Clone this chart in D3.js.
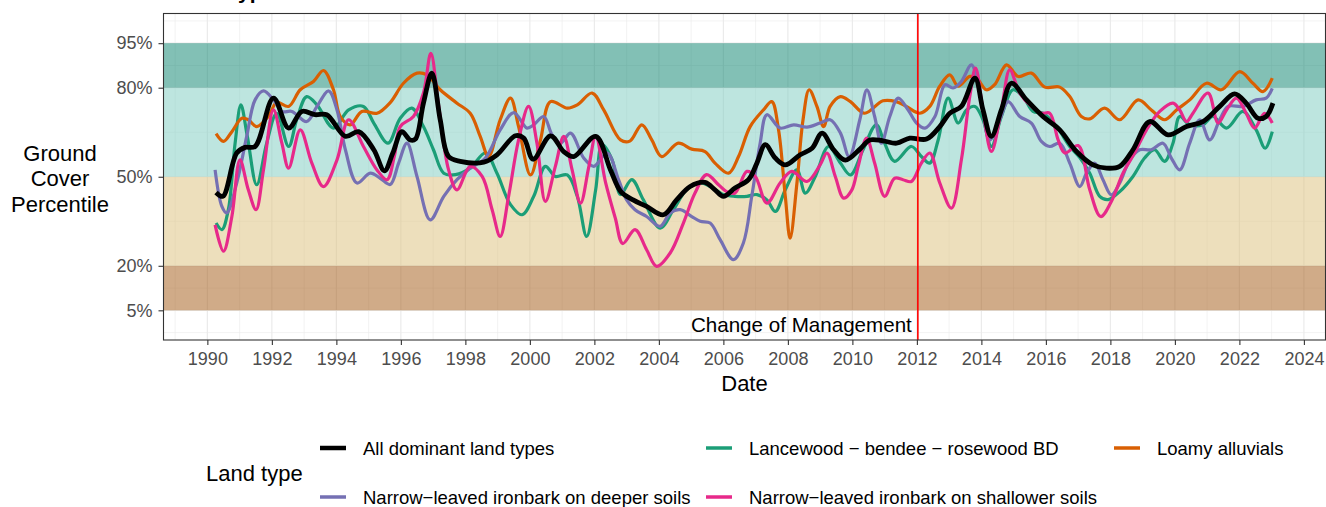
<!DOCTYPE html>
<html><head><meta charset="utf-8">
<script src="https://cdn.jsdelivr.net/npm/d3@7"></script>
<style>
body{margin:0;background:#fff;}
svg{font-family:"Liberation Sans",Arial,Helvetica,sans-serif;}
</style></head>
<body><svg id="chart" width="1326" height="507"></svg>
<script>
// ---------- data (decimal year, ground cover percentile) ----------
const seriesNames = ["All dominant land types","Lancewood \u2212 bendee \u2212 rosewood BD","Loamy alluvials","Narrow\u2212leaved ironbark on deeper soils","Narrow\u2212leaved ironbark on shallower soils"];
const seriesColors = ["#000000","#1b9e77","#d95f02","#7570b3","#e7298a"];

const allTypes = [[1990.27,44.7],[1990.48,43.4],[1990.91,58],[1991.17,59.9],[1991.48,60.2],[1992.05,76.5],[1992.52,66.4],[1992.93,72],[1993.34,70.9],[1993.7,70.9],[1994.28,63.6],[1994.69,65.2],[1995.16,59.1],[1995.49,52],[1995.75,58],[1996.03,65.2],[1996.29,62.4],[1996.45,62.7],[1996.7,74.8],[1996.96,84.9],[1997.22,69.2],[1997.48,56.8],[1997.84,55.2],[1998.57,54.9],[1998.98,57.4],[1999.55,63.8],[1999.81,63],[2000.1,55.9],[2000.64,63.8],[2001.05,58.5],[2001.36,56.8],[2002.04,63.6],[2002.5,52.3],[2002.82,45],[2003.2,42.2],[2003.62,40],[2004.14,37.2],[2004.55,42.2],[2004.97,46.7],[2005.43,48.1],[2005.74,45.6],[2006.0,43.4],[2006.36,46.2],[2006.78,49],[2007.04,54.6],[2007.3,60.8],[2007.61,56.3],[2007.92,54],[2008.38,57.4],[2008.75,59.6],[2009.06,64.7],[2009.42,59.1],[2009.78,55.6],[2010.25,59.5],[2010.54,62.4],[2010.95,62.1],[2011.37,61.3],[2011.78,63],[2012.3,62.7],[2012.71,66.9],[2013.02,71.4],[2013.38,73.7],[2013.8,83.2],[2014.05,72.5],[2014.31,63.6],[2014.62,72.5],[2014.93,81.5],[2015.4,75.9],[2015.91,70.3],[2016.43,65.8],[2016.95,58.5],[2017.46,54.0],[2017.88,52.9],[2018.29,53.5],[2018.7,59.1],[2019.22,68.6],[2019.79,64.1],[2020.36,66.9],[2020.87,68.6],[2021.39,73.7],[2021.85,77.9],[2022.21,74.8],[2022.58,69.7],[2022.83,70.3],[2023.04,74.8]];

const lancewood = [[1990.27,34.4],[1990.45,32.2],[1990.65,38.9],[1990.86,61.3],[1991.04,74.2],[1991.24,63.6],[1991.53,47.3],[1991.84,61.3],[1992.15,71.4],[1992.52,60.2],[1992.77,69.2],[1993.08,77],[1993.4,74.2],[1993.91,66.4],[1994.38,72.5],[1994.84,73.7],[1995.16,68.1],[1995.6,61.3],[1995.98,69.7],[1996.34,73.1],[1996.7,66.9],[1997.01,59.1],[1997.33,51.2],[1997.69,50.7],[1998.15,52.9],[1998.62,58],[1998.98,51.2],[1999.4,40.6],[1999.76,37.2],[2000.12,43.4],[2000.48,53.5],[2000.79,50.1],[2001.16,50.6],[2001.47,43.4],[2001.76,29.9],[2002.04,45.6],[2002.24,60.8],[2002.55,55.7],[2002.81,44],[2003.16,49],[2003.52,42.2],[2004.04,32.7],[2004.45,38.9],[2004.86,45.6],[2005.28,47.9],[2005.59,46.7],[2006.0,44],[2006.36,43.4],[2006.73,43.4],[2007.04,44],[2007.35,42.2],[2007.61,38.3],[2007.92,45.6],[2008.28,52.3],[2008.54,44.5],[2008.85,50.1],[2009.26,60.2],[2009.63,54.6],[2009.94,50.6],[2010.33,59.1],[2010.74,67.5],[2011.0,61.3],[2011.31,55.2],[2011.83,60.2],[2012.14,56.8],[2012.4,54.6],[2012.66,62.4],[2012.97,76.5],[2013.28,68.1],[2013.54,72.5],[2013.8,73.7],[2014.05,69.2],[2014.31,60.2],[2014.62,70.3],[2014.98,79.3],[2015.29,77],[2015.6,72],[2015.91,71.4],[2016.33,66.9],[2016.74,60.2],[2017.05,56.5],[2017.36,51.2],[2017.67,43.4],[2017.93,42.3],[2018.29,45],[2018.7,50.1],[2019.06,56.3],[2019.37,59.1],[2019.68,55.2],[2019.94,61.3],[2020.15,70.3],[2020.46,67.5],[2020.87,67.5],[2021.18,70.3],[2021.6,66.4],[2022.11,72],[2022.52,65.8],[2022.8,59.6],[2023.02,65.2]];

const loamy = [[1990.27,64.5],[1990.5,61.9],[1990.76,65.2],[1991.07,69.7],[1991.27,69.2],[1991.53,66.9],[1991.89,70.3],[1992.15,75],[1992.52,73.7],[1992.88,79.3],[1993.29,82.1],[1993.6,85.8],[1993.91,79.3],[1994.12,70.3],[1994.43,67.5],[1994.79,72],[1995.26,71.4],[1995.67,75],[1996.08,81.5],[1996.5,84.9],[1996.81,84.3],[1997.22,79.3],[1997.74,74.8],[1998.15,71.4],[1998.46,63.6],[1998.72,56.8],[1999.08,69.2],[1999.4,76.5],[1999.65,66.9],[2000.02,50.6],[2000.33,62.4],[2000.64,75.3],[2001.16,73.1],[2001.47,74.2],[2001.93,78.2],[2002.29,72.5],[2002.81,62.4],[2003.1,62],[2003.47,67.5],[2003.78,62.4],[2004.09,56.8],[2004.6,61.3],[2005.02,59.3],[2005.43,58.5],[2005.74,54.6],[2006.16,51.2],[2006.47,56.8],[2006.83,66.9],[2007.24,72.5],[2007.5,75.3],[2007.71,65.8],[2007.92,43.4],[2008.07,29.3],[2008.28,47.8],[2008.47,69.2],[2008.66,79.3],[2008.9,73.7],[2009.11,66.9],[2009.31,73.7],[2009.63,77],[2009.94,75.3],[2010.38,71.4],[2010.95,75.6],[2011.36,75.3],[2011.67,73.7],[2012.09,71.4],[2012.4,73.7],[2012.71,80.5],[2013.02,84.3],[2013.28,80.5],[2013.64,83.8],[2013.85,83.2],[2014.16,79.3],[2014.41,81],[2014.78,87.7],[2015.14,83.8],[2015.55,84.9],[2015.97,80.2],[2016.43,80.2],[2016.74,77],[2017.1,70.3],[2017.36,69.5],[2017.82,73.1],[2018.29,69.2],[2018.86,75.9],[2019.27,72.5],[2019.68,69.2],[2020.05,72.5],[2020.46,75.9],[2020.98,81.5],[2021.44,79.3],[2022.01,85.4],[2022.42,81.5],[2022.73,78.7],[2023.02,83.2]];

const deeper = [[1990.24,52.3],[1990.45,40],[1990.6,37.8],[1990.91,47.9],[1991.22,63.6],[1991.48,75.9],[1991.74,78.9],[1992.05,75.9],[1992.31,72],[1992.62,72],[1993.08,68.6],[1993.4,73.7],[1993.76,78.9],[1994.02,72.5],[1994.28,59.1],[1994.64,47.9],[1995.05,51.2],[1995.36,49.5],[1995.67,47.4],[1995.93,54.6],[1996.19,61.3],[1996.5,50.1],[1996.91,35.5],[1997.33,43.4],[1997.74,49],[1998.15,52.9],[1998.62,56.3],[1999.08,65.8],[1999.5,71.6],[1999.91,66.4],[2000.12,67.5],[2000.43,70.3],[2000.69,64.1],[2000.95,61.3],[2001.26,64.7],[2001.67,56.3],[2001.98,53.5],[2002.4,58],[2002.75,49],[2003.0,42.2],[2003.26,38.9],[2003.62,36.6],[2004.04,33.3],[2004.35,37.8],[2004.66,38.9],[2005.02,36.6],[2005.28,35],[2005.59,34.4],[2005.9,28.8],[2006.31,22.1],[2006.62,27.7],[2006.88,43.4],[2007.14,61.3],[2007.35,70.9],[2007.76,66.4],[2008.18,67.5],[2008.59,66.7],[2009.0,68.1],[2009.31,69.2],[2009.63,64.7],[2009.9,56.8],[2010.23,69.2],[2010.45,79.3],[2010.69,70.3],[2010.9,61.3],[2011.16,70.3],[2011.42,76.5],[2011.73,72.5],[2011.99,68.1],[2012.25,66.4],[2012.56,70.3],[2012.87,81],[2013.12,79.9],[2013.38,82.1],[2013.69,87.7],[2013.95,78.2],[2014.26,62.4],[2014.57,69.2],[2014.83,75.3],[2015.19,70.3],[2015.55,68.1],[2015.86,61.9],[2016.12,60.2],[2016.43,61.3],[2016.74,54.6],[2017.05,46.7],[2017.26,51.2],[2017.51,54.6],[2017.77,49],[2018.03,43.9],[2018.29,47.9],[2018.6,55.7],[2018.91,59.1],[2019.27,59.1],[2019.63,61.3],[2019.89,56.3],[2020.15,52.3],[2020.46,61.3],[2020.77,69.2],[2021.08,62.4],[2021.39,69.2],[2021.65,73.7],[2022.11,73.7],[2022.52,75.9],[2022.83,76.5],[2023.02,79.8]];

const shallower = [[1990.24,33.8],[1990.5,24.9],[1990.76,36.6],[1991.01,55.7],[1991.27,45.6],[1991.51,38.9],[1991.74,52.3],[1992.05,72.5],[1992.31,61.3],[1992.52,52.9],[1992.88,65.8],[1993.24,54.6],[1993.6,46.7],[1994.02,55.7],[1994.38,69.2],[1994.84,60.2],[1995.26,52.3],[1995.57,49],[1995.8,57],[1995.98,66.9],[1996.39,70.3],[1996.7,78.2],[1996.93,91.6],[1997.16,74.8],[1997.48,52.3],[1997.74,45.6],[1998.15,53.5],[1998.52,50.1],[1998.83,38.9],[1999.08,29.9],[1999.34,43.4],[1999.65,62.4],[1999.96,73.7],[2000.22,61.3],[2000.48,41.7],[2000.79,53.5],[2001.05,63.6],[2001.31,52.3],[2001.57,41.1],[2001.83,53.5],[2002.04,63.6],[2002.35,47.9],[2002.65,36],[2002.88,27.5],[2003.26,32.2],[2003.62,25.4],[2003.93,19.8],[2004.35,24.3],[2004.76,34.4],[2005.12,44.5],[2005.48,50.7],[2005.85,47.3],[2006.1,45],[2006.36,44.5],[2006.73,51.8],[2006.99,50.1],[2007.35,41.1],[2007.76,47.9],[2008.12,51.8],[2008.59,48.4],[2009.0,54],[2009.21,58],[2009.47,50.1],[2009.73,42.8],[2009.98,45.5],[2010.18,53.5],[2010.44,63],[2010.69,54.6],[2011.0,43.4],[2011.31,49.5],[2011.57,49],[2011.83,48.4],[2012.14,54.6],[2012.4,58],[2012.71,47.9],[2013.07,39.4],[2013.38,55.7],[2013.64,77],[2013.82,86.6],[2014.05,72.5],[2014.31,58.5],[2014.62,72.5],[2014.88,86],[2015.19,78.2],[2015.55,73.7],[2015.86,71.4],[2016.12,71.4],[2016.38,62.4],[2016.59,58],[2017.0,60.5],[2017.36,45.6],[2017.7,36.6],[2018.03,41.7],[2018.39,51.2],[2018.75,58],[2019.12,65.8],[2019.53,72],[2019.94,74.8],[2020.15,72.5],[2020.36,68.6],[2020.56,71.4],[2021.03,78.2],[2021.34,68.1],[2021.6,72.5],[2021.91,76.5],[2022.21,71.4],[2022.47,66.4],[2022.78,71.4],[2023.02,68.1]];

const bandLimits = [[5,20],[20,50],[50,80],[80,95]];
const bandColors = ["#a15711","#dbbf79","#7bcbbf","#05816b"];
const yTicks = [5,20,50,80,95];
const yMinor = [-2.5,12.5,35,65,87.5,102.5];
const xTicks = d3.range(1990, 2025, 2);
const xMinor = d3.range(1989, 2025, 2);
const changeDate = 2012.03;
const changeLabel = "Change of Management";

// ---------- layout ----------
const svg = d3.select("#chart");
const P = {l:163.5, r:1325.5, t:13.5, b:340};
const x = d3.scaleLinear().domain([1988.64, 2024.67]).range([P.l, P.r]);
const y = d3.scaleLinear().domain([-5, 105]).range([P.b, P.t]);

svg.append("defs").append("clipPath").attr("id","clip")
  .append("rect").attr("x",P.l).attr("y",P.t).attr("width",P.r-P.l).attr("height",P.b-P.t);

// title (clipped at top of image, as in the original)
svg.append("text").attr("x",175).attr("y",-1.5).attr("font-size",21).attr("font-weight","bold").text("Land type");

// grid
const grid = svg.append("g");
grid.selectAll(".xm").data(xMinor).join("line").attr("x1",d=>x(d)).attr("x2",d=>x(d)).attr("y1",P.t).attr("y2",P.b).attr("stroke","#ebebeb").attr("stroke-width",0.6);
grid.selectAll(".ym").data(yMinor).join("line").attr("y1",d=>y(d)).attr("y2",d=>y(d)).attr("x1",P.l).attr("x2",P.r).attr("stroke","#ebebeb").attr("stroke-width",0.6);
grid.selectAll(".xM").data(xTicks).join("line").attr("x1",d=>x(d)).attr("x2",d=>x(d)).attr("y1",P.t).attr("y2",P.b).attr("stroke","#ebebeb").attr("stroke-width",1.2);
grid.selectAll(".yM").data(yTicks).join("line").attr("y1",d=>y(d)).attr("y2",d=>y(d)).attr("x1",P.l).attr("x2",P.r).attr("stroke","#ebebeb").attr("stroke-width",1.2);

// bands
svg.append("g").selectAll("rect").data(bandLimits).join("rect")
  .attr("x",P.l).attr("width",P.r-P.l)
  .attr("y",d=>y(d[1])).attr("height",d=>y(d[0])-y(d[1]))
  .attr("fill",(d,i)=>bandColors[i]).attr("fill-opacity",0.5);

// lines
const line = d3.line().x(d=>x(d[0])).y(d=>y(d[1])).curve(d3.curveCatmullRom.alpha(0.5));
const lg = svg.append("g").attr("clip-path","url(#clip)");
const colored = [[lancewood,1],[loamy,2],[deeper,3],[shallower,4]];
colored.forEach(([data,i])=>{
  lg.append("path").datum(data).attr("d",line).attr("fill","none")
    .attr("stroke",seriesColors[i]).attr("stroke-width",3.2).attr("stroke-linejoin","round");
});
lg.append("path").datum(allTypes).attr("d",line).attr("fill","none")
  .attr("stroke","#000").attr("stroke-width",4.8).attr("stroke-linejoin","round");

// change of management
svg.append("line").attr("x1",x(changeDate)).attr("x2",x(changeDate)).attr("y1",P.t).attr("y2",P.b)
  .attr("stroke","#ff0000").attr("stroke-width",1.6);
svg.append("text").attr("x",x(changeDate)-6).attr("y",332).attr("text-anchor","end")
  .attr("font-size",20.6).attr("fill","#000").text(changeLabel);

// panel border
svg.append("rect").attr("x",P.l).attr("y",P.t).attr("width",P.r-P.l).attr("height",P.b-P.t)
  .attr("fill","none").attr("stroke","#333").attr("stroke-width",1.1);

// axes
const xAxis = svg.append("g").attr("transform",`translate(0,${P.b})`)
  .call(d3.axisBottom(x).tickValues(xTicks).tickFormat(d3.format("d")).tickSize(5).tickPadding(7));
const yAxis = svg.append("g").attr("transform",`translate(${P.l},0)`)
  .call(d3.axisLeft(y).tickValues(yTicks).tickFormat(d=>d+"%").tickSize(5).tickPadding(6));
[xAxis,yAxis].forEach(a=>{
  a.select(".domain").remove();
  a.selectAll(".tick line").attr("stroke","#333").attr("stroke-width",1.1);
  a.selectAll(".tick text").attr("fill","#4d4d4d").attr("font-size",18).attr("font-family","Liberation Sans, Arial, sans-serif");
});

// axis titles
svg.append("text").attr("x",(P.l+P.r)/2).attr("y",391).attr("text-anchor","middle").attr("font-size",22).text("Date");
const yt = svg.append("text").attr("text-anchor","middle").attr("font-size",22);
["Ground","Cover","Percentile"].forEach((t,i)=>yt.append("tspan").attr("x",60).attr("y",160.5+i*25.5).text(t));

// legend
svg.append("text").attr("x",206).attr("y",481).attr("font-size",22).text("Land type");
const legPos = [[320,448],[706,448],[1114,448],[320,497],[706,497]];
const leg = svg.append("g");
seriesNames.forEach((n,i)=>{
  const [lx,ly] = legPos[i];
  leg.append("line").attr("x1",lx).attr("x2",lx+26).attr("y1",ly).attr("y2",ly)
    .attr("stroke",seriesColors[i]).attr("stroke-width",i===0?4.5:3.5);
  leg.append("text").attr("x",lx+43).attr("y",ly+6.5).attr("font-size",18.5).text(n);
});
</script></body></html>
